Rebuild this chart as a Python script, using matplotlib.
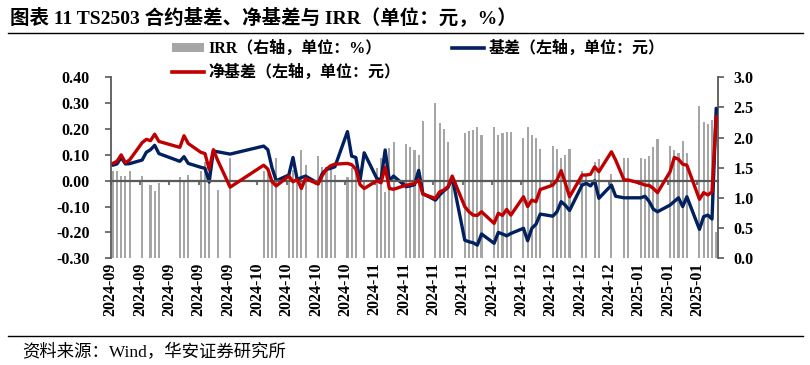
import numpy as np
import pandas as pd
import matplotlib
matplotlib.use("Agg")
import matplotlib.pyplot as plt
from matplotlib.lines import Line2D
from matplotlib.patches import Patch
from matplotlib.ticker import FormatStrFormatter
from matplotlib.font_manager import FontProperties

plt.rcParams['font.family'] = ['Liberation Serif', 'Noto Sans CJK SC']
plt.rcParams['axes.unicode_minus'] = False

# ---------------- data ----------------
dates = [
    "2024-09-02", "2024-09-03", "2024-09-04", "2024-09-05", "2024-09-06",
    "2024-09-09", "2024-09-10", "2024-09-11", "2024-09-12", "2024-09-13",
    "2024-09-18", "2024-09-19", "2024-09-20",
    "2024-09-23", "2024-09-24", "2024-09-25", "2024-09-26", "2024-09-27",
    "2024-09-30",
    "2024-10-08", "2024-10-09", "2024-10-10", "2024-10-11",
    "2024-10-14", "2024-10-15", "2024-10-16", "2024-10-17", "2024-10-18",
    "2024-10-21", "2024-10-22", "2024-10-23", "2024-10-24", "2024-10-25",
    "2024-10-28", "2024-10-29", "2024-10-30", "2024-10-31",
    "2024-11-01",
    "2024-11-04", "2024-11-05", "2024-11-06", "2024-11-07", "2024-11-08",
    "2024-11-11", "2024-11-12", "2024-11-13", "2024-11-14", "2024-11-15",
    "2024-11-18", "2024-11-19", "2024-11-20", "2024-11-21", "2024-11-22",
    "2024-11-25", "2024-11-26", "2024-11-27", "2024-11-28", "2024-11-29",
    "2024-12-02", "2024-12-03", "2024-12-04", "2024-12-05", "2024-12-06",
    "2024-12-09", "2024-12-10", "2024-12-11", "2024-12-12", "2024-12-13",
    "2024-12-16", "2024-12-17", "2024-12-18", "2024-12-19", "2024-12-20",
    "2024-12-23", "2024-12-24", "2024-12-25", "2024-12-26", "2024-12-27",
    "2024-12-30", "2024-12-31",
    "2025-01-02", "2025-01-03",
    "2025-01-06", "2025-01-07", "2025-01-08", "2025-01-09", "2025-01-10",
    "2025-01-13", "2025-01-14", "2025-01-15", "2025-01-16", "2025-01-17",
    "2025-01-20", "2025-01-21", "2025-01-22", "2025-01-23", "2025-01-24",
]

basis = [
    0.060, 0.065, 0.090, 0.065, 0.066, 0.080, 0.110, 0.120, 0.137, 0.105,
    0.075, 0.093, 0.067, 0.052, 0.048, -0.005, 0.115, 0.112, 0.103,
    0.134, 0.120, 0.050, 0.000, 0.022, 0.090, 0.005, 0.012, 0.018, -0.010,
    0.028, 0.044, 0.048, 0.054, 0.190, 0.095, 0.090, 0.000,
    0.108, 0.009, 0.003, 0.119, 0.000, 0.018, -0.023, -0.020, -0.015, 0.040,
    -0.050, -0.075, -0.055, -0.039, -0.026, 0.013, -0.230, -0.236, -0.240,
    -0.249, -0.206,
    -0.242, -0.200, -0.206, -0.213, -0.204, -0.184, -0.232, -0.184, -0.168,
    -0.129, -0.137, -0.120, -0.081, -0.095, -0.115, -0.017, -0.010, -0.020,
    0.000, -0.068, -0.017, -0.060,
    -0.066, -0.066, -0.066, -0.060, -0.080, -0.110, -0.120, -0.094, -0.080,
    -0.066, -0.100, -0.062, -0.188, -0.139, -0.133, -0.148, 0.280,
]

net_basis = [
    0.067, 0.075, 0.100, 0.070, 0.080, 0.147, 0.160, 0.155, 0.180, 0.152,
    0.129, 0.174, 0.144, 0.110, 0.105, 0.044, 0.120, 0.080, -0.025,
    0.060, 0.045, -0.004, -0.020, 0.018, -0.004, 0.005, -0.030, 0.009, -0.013,
    0.020, 0.045, 0.058, 0.064, 0.067, 0.062, 0.045, -0.015,
    -0.030, 0.000, -0.008, 0.052, -0.030, -0.033, -0.017, -0.015, -0.010,
    0.003, -0.052, -0.068, -0.043, -0.036, -0.023, 0.018, -0.100, -0.120,
    -0.133, -0.134, -0.120,
    -0.165, -0.126, -0.134, -0.111, -0.133, -0.062, -0.100, -0.075, -0.081,
    -0.034, -0.017, 0.003, 0.039, -0.010, -0.062, 0.022, 0.022, 0.025,
    0.054, 0.035, 0.112, 0.080,
    0.003, 0.003, -0.010, -0.017, -0.018, -0.030, -0.046, 0.035, 0.090,
    0.083, 0.064, 0.060, -0.072, -0.046, -0.055, -0.043, 0.248,
]

nan = np.nan
irr = [
    1.45, 1.44, 1.36, 1.36, 1.44, 1.36, nan, 1.21, 1.12, 1.24,
    1.34, 1.26, 1.38, 1.44, 1.60, 1.60, nan, 1.14, 1.66,
    1.45, 1.40, 1.30, 1.67, 1.38, 1.46, 1.33, 1.80, 1.54, 1.70,
    1.52, 1.52, 1.46, 1.38, 1.35, 1.50, 1.45, nan,
    1.30, 1.50, 1.67, 1.10, 1.82, 1.92, 1.89, 1.85, 1.80, 1.71,
    2.28, 2.58, 2.25, 2.15, 1.93, 1.38, 2.07, 2.11, 2.13, 2.17, 2.04,
    2.17, 2.04, 2.07, 2.10, 2.10, 2.00, 2.18, 2.04, 1.99, 1.81,
    1.86, 1.81, 1.66, 1.71, 1.81, 1.44, 1.40, nan, 1.60, 1.64, 1.39, nan,
    1.67, 1.66, 1.67, 1.64, 1.69, 1.84, 1.97, 1.86, 1.80, 1.75,
    1.94, 1.74, 2.52, 2.26, 2.22, 2.30, 0.44,
]

title = "图表 11 TS2503 合约基差、净基差与 IRR（单位：元，%）"
source = "资料来源：Wind，华安证券研究所"
lbl_irr = "IRR（右轴，单位：%）"
lbl_basis = "基差（左轴，单位：元）"
lbl_net = "净基差（左轴，单位：元）"

# ---------------- figure ----------------
W, H = 810, 365
d = pd.to_datetime(dates)
start = pd.Timestamp("2024-09-02")
end = pd.Timestamp("2025-01-24")
ndays = (end - start).days + 1
x = (d - start).days.values + 0.5
irr_arr = np.array(irr, dtype=float)
ok = ~np.isnan(irr_arr)

fig = plt.figure(figsize=(W / 100, H / 100), dpi=100)
L, R, T, B = 110.7, 718.3, 77.3, 258.3
ax2 = fig.add_axes([L / W, 1 - B / H, (R - L) / W, (B - T) / H])   # right axis: bars
ax = fig.add_axes([L / W, 1 - B / H, (R - L) / W, (B - T) / H])    # left axis: lines
ax.patch.set_visible(False)

# IRR bars (right axis)
ax2.bar(x[ok], irr_arr[ok], width=0.5, bottom=0, color="#A6A6A6",
        linewidth=0, antialiased=False)
ax2.set_xlim(0, ndays)
ax2.set_ylim(0, 3.0)
ax2.set_yticks(np.arange(0, 3.01, 0.5))
ax2.yaxis.set_major_formatter(FormatStrFormatter("%.1f"))
ax2.yaxis.tick_right()
ax2.set_xticks([])

# basis / net basis lines (left axis)
ax.plot(x, basis, color="#002060", lw=2.4, solid_joinstyle="round",
        solid_capstyle="round", zorder=2)
ax.plot(x, net_basis, color="#C00000", lw=2.4, solid_joinstyle="round",
        solid_capstyle="round", zorder=3)
ax.set_ylim(-0.30, 0.40)
ax.set_yticks(np.arange(-0.30, 0.401, 0.10))
ax.yaxis.set_major_formatter(FormatStrFormatter("%.2f"))

ax.set_xlim(0, ndays)
tick_pos = np.arange(0, ndays, 7)
ax.set_xticks(tick_pos)
ax.set_xticklabels([(start + pd.Timedelta(days=int(t))).strftime("%Y-%m")
                    for t in tick_pos])

axis_col = "#595959"
ax.spines["bottom"].set_position(("data", 0))
ax.spines["bottom"].set_color(axis_col)
ax.spines["bottom"].set_linewidth(1.6)
ax.spines["left"].set_color(axis_col)
ax.spines["left"].set_linewidth(1.3)
for s in ("top", "right"):
    ax.spines[s].set_visible(False)
for s in ("top", "bottom", "left"):
    ax2.spines[s].set_visible(False)
ax2.spines["right"].set_color(axis_col)
ax2.spines["right"].set_linewidth(1.3)

tick_fp = FontProperties(family=["Liberation Serif", "Noto Sans CJK SC"],
                         weight="bold", size=11.5)
ax.tick_params(axis="x", direction="out", length=3, width=1.2,
               color=axis_col, pad=56, labelrotation=90)
ax.tick_params(axis="y", direction="out", length=4, width=1.2,
               color=axis_col, pad=11)
ax2.tick_params(axis="y", direction="out", length=4, width=1.2,
                color=axis_col, pad=7)
for lab in ax.get_xticklabels() + ax.get_yticklabels() + ax2.get_yticklabels():
    lab.set_fontproperties(tick_fp)

# legend
handles = [
    Patch(facecolor="#A6A6A6", edgecolor="none"),
    Line2D([], [], color="#C00000", lw=2.6),
    Line2D([], [], color="#002060", lw=2.6),
]
labels = [lbl_irr, lbl_net, lbl_basis]
fig.legend(handles, labels, loc="upper left",
           bbox_to_anchor=(172 / W, 1 - 41 / H), ncol=2, frameon=False,
           borderpad=0, borderaxespad=0, handlelength=2.0, handleheight=0.5,
           handletextpad=0.3, columnspacing=3.2, labelspacing=0.45,
           prop=FontProperties(family=["Liberation Serif", "Noto Sans CJK SC"],
                               weight="bold", size=11.5))

# title, rules, source
fig.text(10 / W, 1 - 17 / H, title, fontsize=14, weight="bold", va="center",
         ha="left")
fig.add_artist(Line2D([8 / W, 803 / W], [1 - 32.5 / H] * 2, color="black",
                      lw=1.0, transform=fig.transFigure))
fig.add_artist(Line2D([8 / W, 803 / W], [1 - 336 / H] * 2, color="black",
                      lw=1.0, transform=fig.transFigure))
fig.text(22 / W, 1 - 353 / H, source, fontsize=12.5, va="center", ha="left")

fig.savefig("out.png", dpi=100)
